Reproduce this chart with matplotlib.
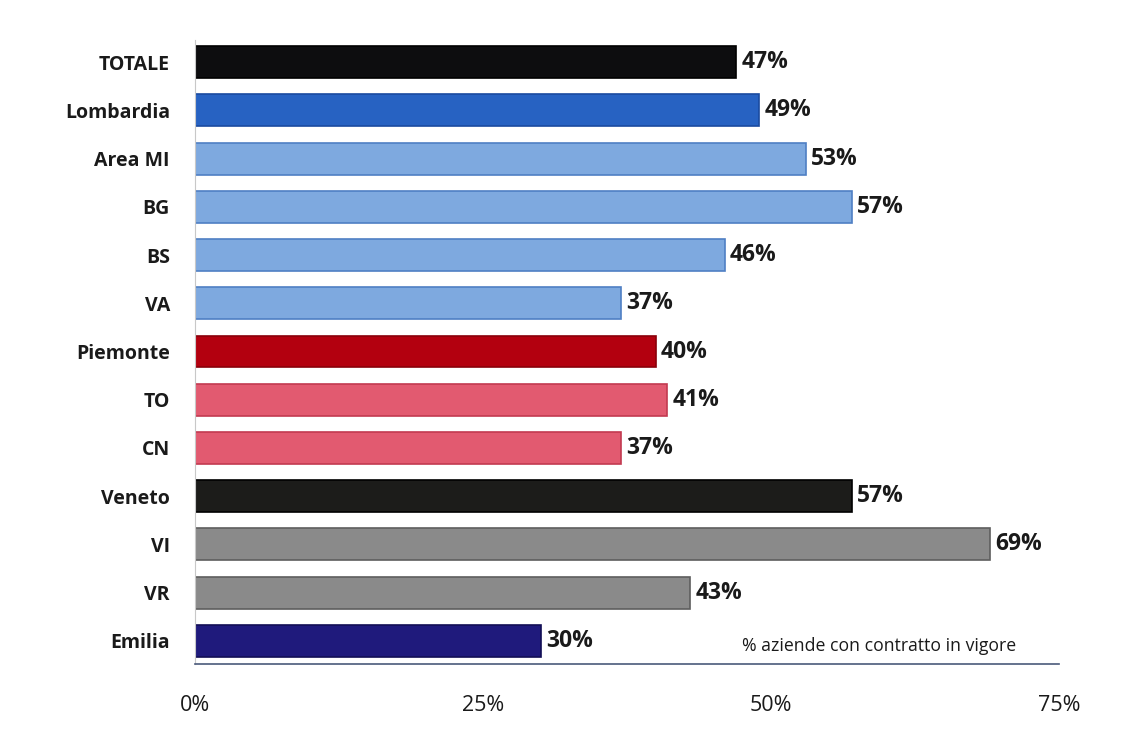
import matplotlib.pyplot as plt

categories = ["TOTALE", "Lombardia", "Area MI", "BG", "BS", "VA", "Piemonte",
              "TO", "CN", "Veneto", "VI", "VR", "Emilia"]
values = [47, 49, 53, 57, 46, 37, 40, 41, 37, 57, 69, 43, 30]
bar_colors = ["#0d0d0f", "#2762c2", "#7ea9df", "#7ea9df", "#7ea9df", "#7ea9df",
              "#b3000f", "#e25a70", "#e25a70", "#1c1c1a", "#8a8a8a", "#8a8a8a", "#1f1a7c"]
edge_colors = ["#000000", "#1a4aa0", "#4f7fc4", "#4f7fc4", "#4f7fc4", "#4f7fc4",
               "#8a000a", "#c23a50", "#c23a50", "#000000", "#5e5e5e", "#5e5e5e", "#120e55"]
x_ticks = [0, 25, 50, 75]
tick_labels = ["0%", "25%", "50%", "75%"]
note = "% aziende con contratto in vigore"

plt.rcParams["font.family"] = ["Open Sans", "DejaVu Sans"]

fig = plt.figure(figsize=(11.38, 7.36), dpi=100)
ax = fig.add_axes([195 / 1138, 1 - 664 / 736, (1059 - 195) / 1138, 624 / 736])

ypos = list(range(len(categories)))
ax.barh(ypos, values, height=0.66, color=bar_colors, edgecolor=edge_colors, linewidth=1.2)

for y, v in zip(ypos, values):
    ax.text(v + 0.45, y, f"{v}%", va="center", ha="left", fontsize=16.5,
            fontweight="bold", color="#1a1a1a")

ax.set_xlim(0, 75)
ax.set_ylim(12.48, -0.46)
ax.set_yticks(ypos)
ax.set_yticklabels(categories, fontsize=14, fontweight="bold", color="#1a1a1a")
ax.set_xticks(x_ticks)
ax.set_xticklabels(tick_labels, fontsize=15.5, color="#1a1a1a")
ax.tick_params(axis="x", length=0, pad=22)
ax.tick_params(axis="y", length=0, pad=18)

for side in ["top", "right"]:
    ax.spines[side].set_visible(False)
ax.spines["left"].set_color("#c8c8c8")
ax.spines["left"].set_linewidth(0.8)
ax.spines["bottom"].set_color("#4a5a7a")
ax.spines["bottom"].set_linewidth(1.2)

ax.text(47.5, 12.1, note, fontsize=12.7, ha="left", va="center", color="#1a1a1a")

fig.savefig("out.png", dpi=100, facecolor="white")
